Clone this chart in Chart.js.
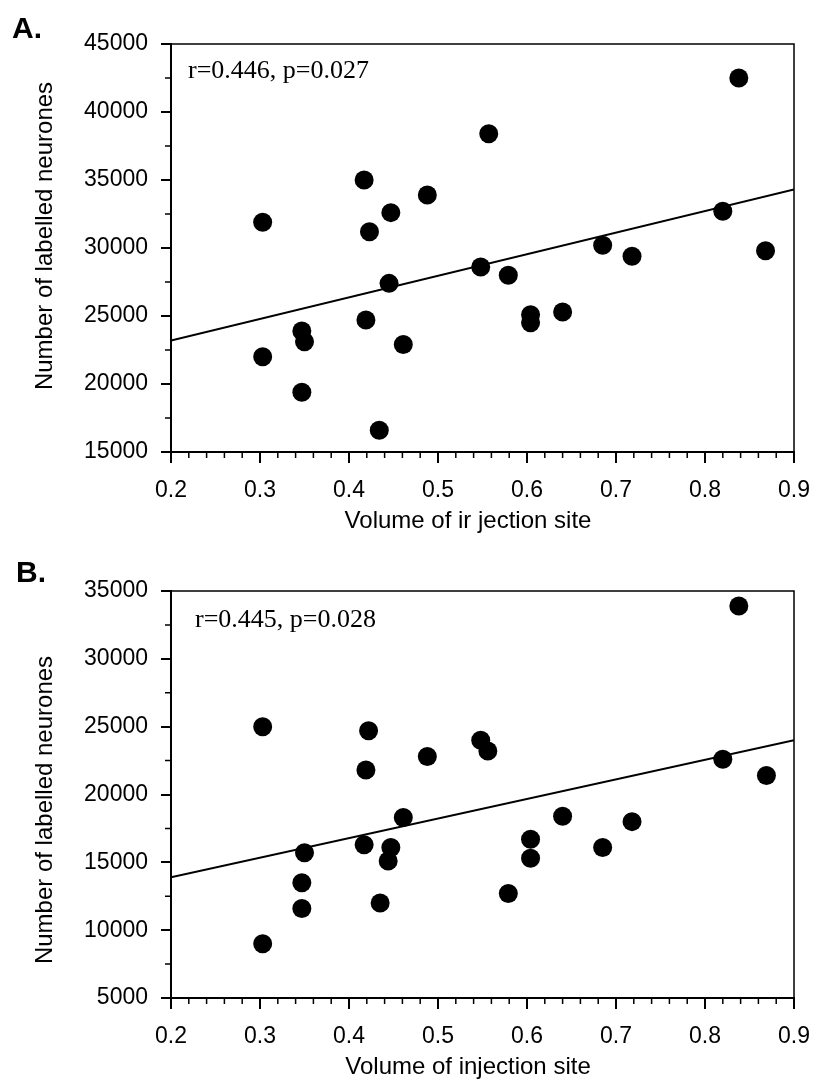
<!DOCTYPE html>
<html>
<head>
<meta charset="utf-8">
<script src="https://cdn.jsdelivr.net/npm/chart.js@4.4.0/dist/chart.umd.min.js"></script>
<style>
  html, body { margin: 0; padding: 0; background: #fff; }
  #wrap { position: relative; width: 824px; height: 1083px; }
  .panel { position: absolute; left: 0; width: 824px; }
  #panelA { top: 0; height: 540px; }
  #panelB { top: 540px; height: 543px; }
</style>
</head>
<body>
<div id="wrap">
  <div class="panel" id="panelA"><canvas id="chartA"></canvas></div>
  <div class="panel" id="panelB"><canvas id="chartB"></canvas></div>
</div>
<script>
// Panel A
const volumeA = [0.303, 0.417, 0.447, 0.423, 0.838, 0.557, 0.488, 0.820, 0.685, 0.718, 0.868, 0.445,
                 0.419, 0.347, 0.350, 0.303, 0.347, 0.434, 0.461, 0.548, 0.579, 0.604, 0.604, 0.640];
const neuronesA = [31900, 35000, 32600, 31200, 42500, 38400, 33900, 32700, 30200, 29400, 29800, 27400,
                   24700, 23900, 23100, 22000, 19400, 16600, 22900, 28600, 28000, 25100, 24500, 25300];
const fitXA = [0.2, 0.9];
const fitYA = [23200, 34300];

// Panel B
const volumeB = [0.303, 0.422, 0.419, 0.838, 0.548, 0.556, 0.488, 0.820, 0.869, 0.461, 0.417, 0.447,
                 0.444, 0.350, 0.347, 0.347, 0.303, 0.435, 0.640, 0.718, 0.604, 0.604, 0.685, 0.579];
const neuronesB = [25000, 24700, 21800, 33900, 24000, 23200, 22800, 22600, 21400, 18300, 16300, 16100,
                   15100, 15700, 13500, 11600, 9000, 12000, 18400, 18000, 16700, 15300, 16100, 12700];
const fitXB = [0.2, 0.9];
const fitYB = [13900, 24000];

const xTicks = [0.2, 0.3, 0.4, 0.5, 0.6, 0.7, 0.8, 0.9];
const yTicksA = [15000, 20000, 25000, 30000, 35000, 40000, 45000];
const yTicksB = [5000, 10000, 15000, 20000, 25000, 30000, 35000];

Chart.defaults.font.family = '"Liberation Sans", Arial, sans-serif';
Chart.defaults.color = '#000';

// frame, minor ticks and the texts placed around the plot
const panelDecor = {
    id: 'panelDecor',
    afterDraw(chart, args, opts) {
        const ctx = chart.ctx;
        const a = chart.chartArea;
        const x = chart.scales.x;
        const y = chart.scales.y;
        ctx.save();
        ctx.strokeStyle = '#000';
        ctx.lineWidth = 1.5;
        ctx.beginPath();
        ctx.moveTo(a.left, a.top);
        ctx.lineTo(a.right, a.top);
        ctx.lineTo(a.right, a.bottom);
        ctx.stroke();

        // minor ticks
        ctx.beginPath();
        for (let i = 1; i < 35; i++) {
            if (i % 5 === 0) continue;
            const px = x.getPixelForValue(0.2 + i * 0.02);
            ctx.moveTo(px, a.bottom);
            ctx.lineTo(px, a.bottom + 6);
        }
        const yt = opts.yTicks;
        for (let i = 0; i < yt.length - 1; i++) {
            const py = y.getPixelForValue((yt[i] + yt[i + 1]) / 2);
            ctx.moveTo(a.left, py);
            ctx.lineTo(a.left - 6, py);
        }
        ctx.stroke();

        ctx.fillStyle = '#000';
        ctx.textBaseline = 'alphabetic';

        // panel letter
        ctx.font = 'bold 30px "Liberation Sans", Arial, sans-serif';
        ctx.textAlign = 'left';
        ctx.fillText(opts.label, opts.labelX, opts.labelY);

        // statistics
        ctx.font = '26px "Liberation Serif", "Times New Roman", serif';
        ctx.fillText(opts.note, a.left + opts.noteDx, a.top + opts.noteDy);

        // axis titles
        ctx.font = '24px "Liberation Sans", Arial, sans-serif';
        ctx.textAlign = 'center';
        ctx.fillText(opts.xTitle, 468, a.bottom + 76);
        ctx.translate(52, opts.yTitleY);
        ctx.rotate(-Math.PI / 2);
        ctx.fillText('Number of labelled neurones', 0, 0);
        ctx.restore();
    }
};

function makePanel(id, vol, neu, fitX, fitY, yTicks, padTop, padBottom, deco) {
    const pts = vol.map((v, i) => ({x: v, y: neu[i]}));
    const fit = fitX.map((v, i) => ({x: v, y: fitY[i]}));
    return new Chart(document.getElementById(id), {
        type: 'scatter',
        data: {
            datasets: [{
                data: pts,
                backgroundColor: '#000',
                borderWidth: 0,
                pointRadius: 9.5,
                pointHoverRadius: 9.5,
                order: 0
            }, {
                type: 'line',
                data: fit,
                borderColor: '#000',
                borderWidth: 2,
                pointRadius: 0,
                fill: false,
                order: 1
            }]
        },
        options: {
            responsive: true,
            maintainAspectRatio: false,
            animation: false,
            layout: {padding: {left: 0, right: 24, top: padTop, bottom: padBottom}},
            plugins: {
                legend: {display: false},
                tooltip: {enabled: false},
                panelDecor: deco
            },
            scales: {
                x: {
                    type: 'linear',
                    min: 0.2,
                    max: 0.9,
                    afterBuildTicks: s => { s.ticks = xTicks.map(v => ({value: v})); },
                    afterFit: s => { s.height = 80; },
                    ticks: {
                        font: {size: 23},
                        padding: 14,
                        maxRotation: 0,
                        callback: v => v.toFixed(1)
                    },
                    grid: {drawOnChartArea: false, drawTicks: true, tickLength: 11, color: '#000', lineWidth: 2},
                    border: {display: true, color: '#000', width: 2}
                },
                y: {
                    type: 'linear',
                    min: yTicks[0],
                    max: yTicks[yTicks.length - 1],
                    afterBuildTicks: s => { s.ticks = yTicks.map(v => ({value: v})); },
                    afterFit: s => { s.width = 171; },
                    ticks: {
                        font: {size: 23},
                        padding: 13,
                        callback: v => String(v)
                    },
                    grid: {drawOnChartArea: false, drawTicks: true, tickLength: 10, color: '#000', lineWidth: 2},
                    border: {display: true, color: '#000', width: 2}
                }
            }
        },
        plugins: [panelDecor]
    });
}

makePanel('chartA', volumeA, neuronesA, fitXA, fitYA, yTicksA, 44, 8, {
    label: 'A.', labelX: 12, labelY: 38, note: 'r=0.446, p=0.027', noteDx: 17, noteDy: 34,
    xTitle: 'Volume of ir jection site', yTitleY: 236, yTicks: yTicksA
});
makePanel('chartB', volumeB, neuronesB, fitXB, fitYB, yTicksB, 51, 5, {
    label: 'B.', labelX: 16, labelY: 42, note: 'r=0.445, p=0.028', noteDx: 24, noteDy: 36,
    xTitle: 'Volume of injection site', yTitleY: 270, yTicks: yTicksB
});
</script>
</body>
</html>
